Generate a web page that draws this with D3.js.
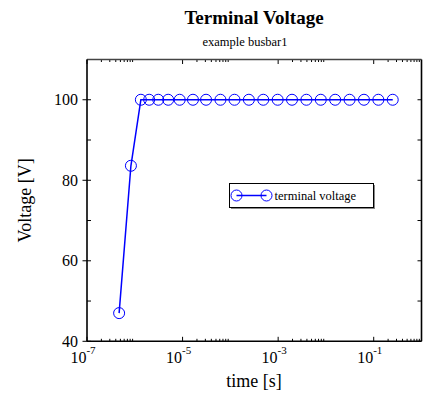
<!DOCTYPE html>
<html>
<head>
<meta charset="utf-8">
<script src="https://cdn.jsdelivr.net/npm/d3@7"></script>
<style>
  html, body { margin: 0; padding: 0; background: #fff; }
  svg { display: block; }
  text { font-family: "Liberation Serif", "Times New Roman", serif; fill: #000; }
</style>
</head>
<body>
<svg id="chart" width="423" height="397"></svg>
<script>
// ---- data ----
const times = [4.7e-7, 8.3e-7, 1.34e-6, 2.0e-6, 3.1e-6, 5.0e-6, 8.7e-6, 1.65e-5, 3.1e-5,
  6.2e-5, 1.22e-4, 2.44e-4, 4.88e-4, 9.77e-4, 1.95e-3, 3.9e-3, 7.8e-3, 0.0156, 0.03125,
  0.0625, 0.125, 0.25];
const voltages = [47, 83.6, 100, 100, 100, 100, 100, 100, 100, 100, 100, 100, 100, 100,
  100, 100, 100, 100, 100, 100, 100, 100];
const xTickExponents = [-7, -5, -3, -1];
const yTickValues = [40, 60, 80, 100];
const yMinorValues = [50, 70, 90];
const seriesName = "terminal voltage";
const titleText = "Terminal Voltage";
const subtitleText = "example busbar1";
const xLabel = "time [s]";
const yLabel = "Voltage [V]";

// ---- layout ----
const W = 423, H = 397;
const plot = { left: 87, right: 421.5, top: 59.5, bottom: 341.3 };
const blue = "#0000ff";

const svg = d3.select("#chart");
const x = d3.scaleLog().domain([1e-7, 1]).range([plot.left, plot.right]);
const y = d3.scaleLinear().domain([40, 110]).range([plot.bottom, plot.top]);

// titles
svg.append("text").attr("x", 254).attr("y", 24).attr("text-anchor", "middle")
  .style("font-size", "19px").style("font-weight", "bold").text(titleText);
svg.append("text").attr("x", 245).attr("y", 46).attr("text-anchor", "middle")
  .style("font-size", "12.5px").text(subtitleText);

// minor / major x tick positions
const majorX = xTickExponents.map(e => Math.pow(10, e));
const minorX = [];
xTickExponents.forEach(e => { for (let k = 2; k <= 9; k++) minorX.push(k * Math.pow(10, e)); });

const g = svg.append("g");

// x ticks (bottom and top, inward)
g.selectAll(".xmaj").data(majorX).join("line")
  .attr("x1", d => x(d)).attr("x2", d => x(d))
  .attr("y1", plot.bottom).attr("y2", plot.bottom - 4.5)
  .attr("stroke", "#000").attr("stroke-width", 1);
g.selectAll(".xmajt").data(majorX).join("line")
  .attr("x1", d => x(d)).attr("x2", d => x(d))
  .attr("y1", plot.top).attr("y2", plot.top + 4.5)
  .attr("stroke", "#000").attr("stroke-width", 1);
g.selectAll(".xmin").data(minorX).join("line")
  .attr("x1", d => x(d)).attr("x2", d => x(d))
  .attr("y1", plot.bottom).attr("y2", plot.bottom - 2.5)
  .attr("stroke", "#000").attr("stroke-width", 1);
g.selectAll(".xmint").data(minorX).join("line")
  .attr("x1", d => x(d)).attr("x2", d => x(d))
  .attr("y1", plot.top).attr("y2", plot.top + 2.5)
  .attr("stroke", "#000").attr("stroke-width", 1);

// y ticks
g.selectAll(".ymaj").data(yTickValues).join("line")
  .attr("x1", plot.left - 4.5).attr("x2", plot.left + 4)
  .attr("y1", d => y(d)).attr("y2", d => y(d))
  .attr("stroke", "#000").attr("stroke-width", 1);
g.selectAll(".ymin").data(yMinorValues).join("line")
  .attr("x1", plot.left).attr("x2", plot.left + 4)
  .attr("y1", d => y(d)).attr("y2", d => y(d))
  .attr("stroke", "#000").attr("stroke-width", 1);
g.selectAll(".ymajr").data(yTickValues.concat(yMinorValues)).join("line")
  .attr("x1", plot.right).attr("x2", plot.right - 4)
  .attr("y1", d => y(d)).attr("y2", d => y(d))
  .attr("stroke", "#000").attr("stroke-width", 1);

// frame
g.append("line").attr("x1", plot.left).attr("x2", plot.right).attr("y1", plot.top).attr("y2", plot.top)
  .attr("stroke", "#444").attr("stroke-width", 1.6);
g.append("line").attr("x1", plot.left).attr("x2", plot.right).attr("y1", plot.bottom).attr("y2", plot.bottom)
  .attr("stroke", "#000").attr("stroke-width", 1.6);
g.append("line").attr("x1", plot.left).attr("x2", plot.left).attr("y1", plot.top).attr("y2", plot.bottom)
  .attr("stroke", "#000").attr("stroke-width", 1.6);
g.append("line").attr("x1", plot.right).attr("x2", plot.right).attr("y1", plot.top).attr("y2", plot.bottom)
  .attr("stroke", "#000").attr("stroke-width", 1.6);

// y tick labels
g.selectAll(".ylab").data(yTickValues).join("text")
  .attr("x", plot.left - 9).attr("y", d => y(d) + 5.5)
  .attr("text-anchor", "end").style("font-size", "16px").text(d => d);

// x tick labels 10^e
const xl = g.selectAll(".xlab").data(xTickExponents).join("text")
  .attr("x", d => x(Math.pow(10, d)) - 4).attr("y", 363)
  .attr("text-anchor", "middle").style("font-size", "16px");
xl.append("tspan").text("10");
xl.append("tspan").attr("dy", -9).style("font-size", "11px").text(d => "-" + Math.abs(d));

// axis labels
svg.append("text").attr("x", 254).attr("y", 387).attr("text-anchor", "middle")
  .style("font-size", "18px").text(xLabel);
svg.append("text").attr("transform", `translate(31,${(plot.top + plot.bottom) / 2}) rotate(-90)`)
  .attr("text-anchor", "middle").style("font-size", "18px").text(yLabel);

// series
const pts = times.map((t, i) => ({ t, v: voltages[i] }));
const line = d3.line().x(d => x(d.t)).y(d => y(d.v));
g.append("path").datum(pts).attr("d", line).attr("fill", "none")
  .attr("stroke", blue).attr("stroke-width", 1.5);
g.selectAll(".pt").data(pts).join("circle")
  .attr("cx", d => x(d.t)).attr("cy", d => y(d.v)).attr("r", 5.5)
  .attr("fill", "none").attr("stroke", blue).attr("stroke-width", 1);

// legend
const lg = svg.append("g");
const lx = 229.5, ly = 183.5, lw = 144, lh = 24;
lg.append("rect").attr("x", lx + 1.5).attr("y", ly + 1.5).attr("width", lw).attr("height", lh)
  .attr("fill", "#888");
lg.append("rect").attr("x", lx).attr("y", ly).attr("width", lw).attr("height", lh)
  .attr("fill", "#fff").attr("stroke", "#000").attr("stroke-width", 1);
const legY = ly + lh / 2;
lg.append("line").attr("x1", lx + 7).attr("x2", lx + 37).attr("y1", legY).attr("y2", legY)
  .attr("stroke", blue).attr("stroke-width", 1.5);
lg.selectAll("circle").data([lx + 7, lx + 37]).join("circle")
  .attr("cx", d => d).attr("cy", legY).attr("r", 5.5)
  .attr("fill", "none").attr("stroke", blue).attr("stroke-width", 1);
lg.append("text").attr("x", lx + 45).attr("y", legY + 4.5).style("font-size", "12.5px").text(seriesName);
</script>
</body>
</html>
